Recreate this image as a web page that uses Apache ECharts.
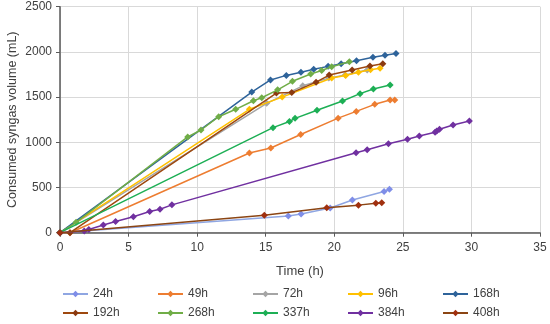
<!DOCTYPE html>
<html><head><meta charset="utf-8">
<script src="https://cdn.jsdelivr.net/npm/echarts@6/dist/echarts.min.js"></script>
<style>html,body{margin:0;padding:0;background:#fff}#c{width:550px;height:324px}</style>
</head><body><div id="c"></div>
<script>
const seriesNames = ["24h","49h","72h","96h","168h","192h","268h","337h","384h","408h"];
const xTicks = [0,5,10,15,20,25,30,35];
const yTicks = [0,500,1000,1500,2000,2500];
const d24h  = [[0,0],[16.65,185],[17.58,207],[19.7,273],[21.32,362],[23.63,455],[24.02,480]];
const d49h  = [[0,0],[0.73,0],[13.81,882],[15.37,937],[17.55,1086],[20.28,1267],[21.6,1342],[22.95,1420],[24.07,1468],[24.41,1468]];
const d72h  = [[0,0],[15.07,1431],[17.7,1625],[19.6,1710],[20.8,1744],[22.4,1800]];
const d96h  = [[0,0],[13.81,1365],[16.2,1500],[19.81,1712],[20.83,1740],[21.76,1775],[22.64,1803],[23.34,1818]];
const d168h = [[0,0],[13.98,1556],[15.35,1690],[16.5,1740],[17.57,1774],[18.5,1807],[19.55,1840],[20.5,1870],[21.62,1903],[22.82,1940],[23.7,1964],[24.5,1982]];
const d192h = [[0,0],[0.73,0],[15.78,1545],[16.9,1550],[18.67,1665],[19.63,1744],[21.3,1800],[22.6,1844],[23.54,1870]];
const d268h = [[0,0],[1.17,115],[9.31,1059],[10.28,1136],[11.57,1283],[12.81,1365],[14.1,1460],[14.71,1493],[15.87,1580],[16.95,1675],[18.28,1755],[19.08,1795],[19.81,1836],[21.1,1890]];
const d337h = [[0,0],[15.53,1162],[16.73,1230],[17.14,1265],[18.74,1355],[20.6,1457],[21.88,1538],[22.85,1590],[24.07,1634]];
const d384h = [[0,0],[1.77,20],[2.1,35],[3.16,85],[4.05,124],[5.35,177],[6.54,234],[7.29,260],[8.16,308],[21.59,885],[22.4,918],[23.95,985],[25.34,1033],[26.2,1070],[27.35,1110],[27.47,1125],[27.67,1144],[28.66,1191],[29.85,1236]];
const d408h = [[0,0],[14.9,193],[19.45,275],[21.76,305],[23.03,325],[23.46,332]];
const seriesData = [d24h,d49h,d72h,d96h,d168h,d192h,d268h,d337h,d384h,d408h];
const lineColors   = ["#8FA6E2","#ED7D31","#A5A5A5","#FFC000","#2E639A","#9E480E","#70AD47","#1DAF55","#7030A0","#8B4513"];
const markerColors = ["#7F8EE8","#ED7D31","#A5A5A5","#FFC000","#2E639A","#8B3A10","#70AD47","#1DAF55","#7030A0","#A0300F"];

const chart = echarts.init(document.getElementById('c'), null, {renderer:'canvas'});
const font = '"Liberation Sans", Arial, sans-serif';
const series = seriesNames.map((n,i)=>({
  name:n, type:'line', data:seriesData[i], symbol:'diamond', symbolSize:7,
  lineStyle:{color:lineColors[i], width:1.5},
  itemStyle:{color:markerColors[i]},
  z: 2+i, animation:false
}));
const legends = seriesNames.map((n,i)=>({
  orient:'horizontal', left:57 + 95*(i%5), top: i<5 ? 283 : 302,
  itemWidth:25, itemHeight:8, itemGap:0,
  textStyle:{fontFamily:font, fontSize:12, color:'#404040'},
  data:[n]
}));
chart.setOption({
  animation:false,
  grid:{left:60, right:10, top:6.7, bottom:91.3, containLabel:false, outerBoundsMode:'none'},
  xAxis:{type:'value', min:0, max:35, interval:5,
    name:'Time (h)', nameLocation:'middle', nameGap:32, nameMoveOverlap:false,
    nameTextStyle:{fontFamily:font, fontSize:13, color:'#404040'},
    axisLine:{show:true, onZero:false, lineStyle:{color:'#595959', width:1.5}},
    axisTick:{show:true, inside:false, length:4, lineStyle:{color:'#595959'}},
    axisLabel:{fontFamily:font, fontSize:12, color:'#404040', margin:9, formatter:v=>String(v)},
    splitLine:{show:true, lineStyle:{color:'#D9D9D9', width:1}}},
  yAxis:{type:'value', min:0, max:2500, interval:500,
    name:'Consumed syngas volume (mL)', nameLocation:'middle', nameGap:41, nameRotate:90, nameMoveOverlap:false,
    nameTextStyle:{fontFamily:font, fontSize:12.5, color:'#404040'},
    axisLine:{show:true, lineStyle:{color:'#595959', width:1.5}},
    axisTick:{show:true, length:4, lineStyle:{color:'#595959'}},
    axisLabel:{fontFamily:font, fontSize:12, color:'#404040', margin:8, formatter:v=>String(v)},
    splitLine:{show:true, lineStyle:{color:'#D9D9D9', width:1}}},
  legend: legends,
  series: series
});
</script></body></html>
